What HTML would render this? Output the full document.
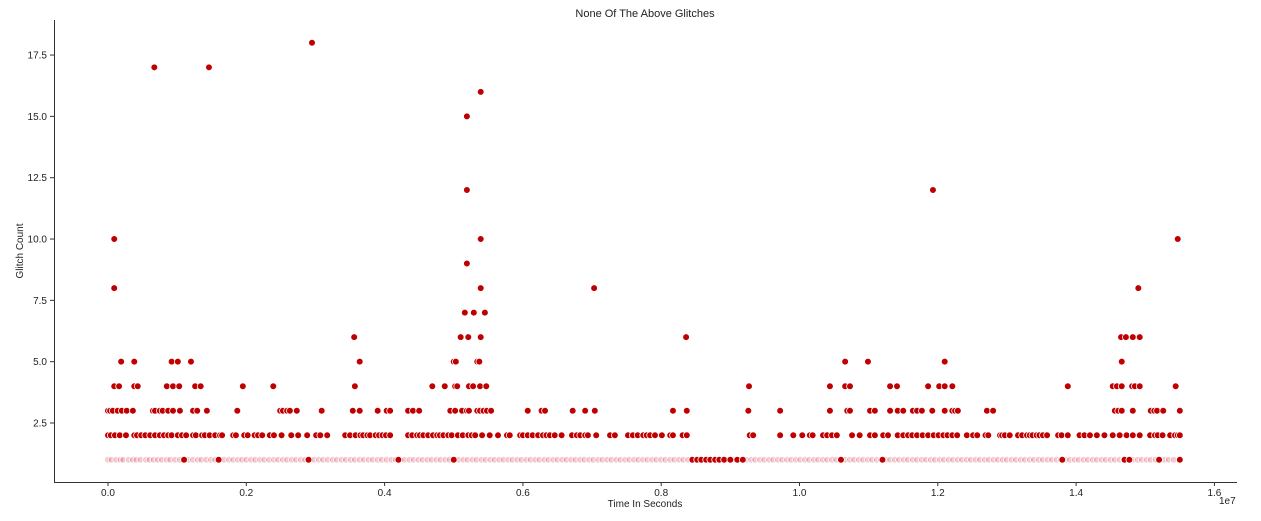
<!DOCTYPE html>
<html><head><meta charset="utf-8"><style>
body{margin:0;background:#fff;}
svg{display:block;font-family:"Liberation Sans","DejaVu Sans",sans-serif;}
</style></head><body>
<svg id="chart" width="1261" height="521" viewBox="0 0 1261 521">
<text x="645" y="17" font-size="11" text-anchor="middle" fill="#222">None Of The Above Glitches</text>
<g id="marks"></g>
<line x1="54.5" y1="20" x2="54.5" y2="482" stroke="#333" stroke-width="1"/>
<line x1="54" y1="482.5" x2="1237" y2="482.5" stroke="#333" stroke-width="1"/>
<g id="xticks"></g>
<g id="yticks"></g>
<text x="645" y="507" font-size="10" text-anchor="middle" fill="#222">Time In Seconds</text>
<text x="1219" y="504" font-size="10" fill="#222">1e7</text>
<text x="23" y="251" font-size="10" text-anchor="middle" fill="#222" transform="rotate(-90 23 251)">Glitch Count</text>
</svg>
<script>
const xTicks=[0,0.2,0.4,0.6,0.8,1.0,1.2,1.4,1.6];
const xTickLabels=["0.0","0.2","0.4","0.6","0.8","1.0","1.2","1.4","1.6"];
const yTicks=[2.5,5,7.5,10,12.5,15,17.5];
const yTickLabels=["2.5","5.0","7.5","10.0","12.5","15.0","17.5"];
const level1=[0,.005,.012,.018,.022,.03,.036,.041,.047,.055,.06,.066,.072,.078,.085,.09,.097,.104,.11,.116,.123,.13,.135,.142,.149,.155,.162,.168,.175,.181,.188,.194,.2,.207,.213,.22,.226,.233,.24,.246,.253,.259,.266,.272,.279,.285,.292,.298,.305,.311,.318,.325,.331,.338,.344,.351,.357,.364,.37,.377,.383,.39,.396,.403,.41,.416,.423,.429,.436,.442,.449,.455,.462,.468,.475,.481,.488,.494,.501,.507,.514,.52,.527,.533,.54,.546,.553,.559,.566,.572,.579,.585,.592,.598,.605,.611,.618,.624,.631,.637,.644,.65,.657,.663,.67,.676,.683,.689,.696,.702,.709,.715,.722,.728,.735,.741,.748,.754,.761,.767,.774,.78,.787,.793,.8,.806,.813,.819,.826,.832,.839,.845,.852,.858,.865,.871,.878,.884,.891,.897,.904,.91,.917,.923,.93,.936,.943,.949,.956,.962,.969,.975,.982,.988,.995,1.001,1.008,1.014,1.021,1.027,1.034,1.04,1.047,1.053,1.06,1.066,1.073,1.079,1.086,1.092,1.099,1.105,1.112,1.118,1.125,1.131,1.138,1.144,1.151,1.157,1.164,1.17,1.177,1.183,1.19,1.196,1.203,1.209,1.216,1.222,1.229,1.235,1.242,1.248,1.255,1.261,1.268,1.274,1.281,1.287,1.294,1.3,1.307,1.313,1.32,1.326,1.333,1.339,1.346,1.352,1.359,1.365,1.372,1.378,1.385,1.391,1.398,1.404,1.411,1.417,1.424,1.43,1.437,1.443,1.45,1.456,1.463,1.469,1.476,1.482,1.489,1.495,1.502,1.508,1.515,1.521,1.528,1.534,1.541,1.55];
const level1Dark=[.11,.16,.29,.42,.5,.845,.852,.858,.865,.871,.878,.884,.891,.9,.91,.918,1.06,1.12,1.38,1.47,1.477,1.52,1.55];
const level2=[0,.004,.010,.017,.026,.038,.042,.048,.054,.061,.068,.075,.081,.087,.092,.101,.107,.113,.123,.127,.136,.140,.147,.155,.162,.165,.181,.185,.197,.202,.212,.217,.223,.234,.240,.251,.265,.275,.288,.301,.307,.317,.343,.350,.358,.365,.369,.375,.379,.387,.392,.397,.402,.408,.434,.440,.447,.451,.456,.463,.470,.476,.480,.485,.492,.497,.506,.513,.521,.526,.531,.541,.552,.564,.577,.581,.596,.600,.607,.614,.622,.629,.634,.639,.646,.656,.671,.678,.683,.690,.694,.706,.726,.733,.752,.759,.766,.774,.779,.784,.791,.801,.813,.817,.831,.837,.928,.933,.972,.991,1.004,1.015,1.019,1.034,1.040,1.047,1.054,1.076,1.087,1.102,1.109,1.121,1.128,1.142,1.150,1.157,1.163,1.170,1.178,1.186,1.194,1.201,1.208,1.214,1.221,1.228,1.242,1.251,1.257,1.269,1.273,1.290,1.293,1.297,1.304,1.316,1.322,1.329,1.333,1.337,1.343,1.347,1.352,1.358,1.374,1.379,1.388,1.405,1.412,1.420,1.430,1.441,1.453,1.463,1.473,1.482,1.492,1.507,1.514,1.518,1.525,1.536,1.543,1.547,1.550];
const level3=[0,.003,.007,.014,.020,.027,.036,.065,.068,.075,.079,.087,.094,.104,.123,.129,.143,.187,.249,.253,.259,.263,.273,.309,.354,.364,.390,.403,.408,.434,.441,.450,.495,.502,.512,.519,.522,.534,.538,.543,.548,.554,.607,.627,.632,.672,.690,.704,.817,.837,.926,.972,1.044,1.069,1.073,1.102,1.109,1.131,1.142,1.150,1.164,1.170,1.177,1.192,1.210,1.221,1.225,1.229,1.271,1.280,1.456,1.461,1.466,1.482,1.508,1.513,1.517,1.526,1.550];
const level4=[.009,.016,.038,.043,.085,.094,.103,.126,.134,.195,.239,.357,.469,.487,.502,.505,.522,.528,.538,.547,.927,1.044,1.066,1.073,1.131,1.141,1.186,1.202,1.210,1.221,1.388,1.453,1.459,1.466,1.481,1.485,1.492,1.544];
const level5=[.019,.038,.092,.101,.120,.364,.500,.503,.534,.537,1.066,1.099,1.210,1.466];
const level6=[.356,.510,.521,.539,.836,1.465,1.472,1.482,1.492];
const level7=[.516,.529,.545];
const level8=[.009,.539,.703,1.49];
const level9=[.519];
const level10=[.009,.539,1.547];
const level12=[.519,1.193];
const level15=[.519];
const level16=[.539];
const level17=[.067,.146];
const level18=[.295];

const NS="http://www.w3.org/2000/svg";
function xScale(v){return 108+691.5*v;}
function yScale(v){return 423-(v-2.5)*24.53;}
const marks=document.getElementById('marks');
function dot(xv,yv,fill,op,name){
  const c=document.createElementNS(NS,'circle');
  c.setAttribute('cx',xScale(xv));c.setAttribute('cy',yScale(yv));c.setAttribute('r',3.4);
  c.setAttribute('fill',fill);c.setAttribute('fill-opacity',op);
  c.setAttribute('stroke','#fff');c.setAttribute('stroke-width',0.8);
  
  
  marks.appendChild(c);
}
level1.forEach(v=>dot(v,1,'#c8102e',0.22,'point-count-1'));
level1Dark.forEach(v=>dot(v,1,'#c00000',1,'point-count-1'));
const levels=[[2,level2],[3,level3],[4,level4],[5,level5],[6,level6],[7,level7],[8,level8],[9,level9],[10,level10],[12,level12],[15,level15],[16,level16],[17,level17],[18,level18]];
levels.forEach(([y,arr])=>arr.forEach(v=>dot(v,y,'#c00000',1,'point-count-'+y)));

const xt=document.getElementById('xticks');
xTicks.forEach((v,i)=>{
  const x=xScale(v);
  const l=document.createElementNS(NS,'line');
  l.setAttribute('x1',x);l.setAttribute('x2',x);l.setAttribute('y1',482);l.setAttribute('y2',486);l.setAttribute('stroke','#333');
  
  
  xt.appendChild(l);
  const t=document.createElementNS(NS,'text');
  t.setAttribute('x',x);t.setAttribute('y',496);t.setAttribute('font-size','10');t.setAttribute('text-anchor','middle');t.setAttribute('fill','#222');
  t.textContent=xTickLabels[i];
  
  
  xt.appendChild(t);
});
const yt=document.getElementById('yticks');
yTicks.forEach((v,i)=>{
  const y=yScale(v);
  const l=document.createElementNS(NS,'line');
  l.setAttribute('x1',50);l.setAttribute('x2',54);l.setAttribute('y1',y);l.setAttribute('y2',y);l.setAttribute('stroke','#333');
  
  
  yt.appendChild(l);
  const t=document.createElementNS(NS,'text');
  t.setAttribute('x',47);t.setAttribute('y',y+3.5);t.setAttribute('font-size','10');t.setAttribute('text-anchor','end');t.setAttribute('fill','#222');
  t.textContent=yTickLabels[i];
  
  
  yt.appendChild(t);
});
</script>
</body></html>
